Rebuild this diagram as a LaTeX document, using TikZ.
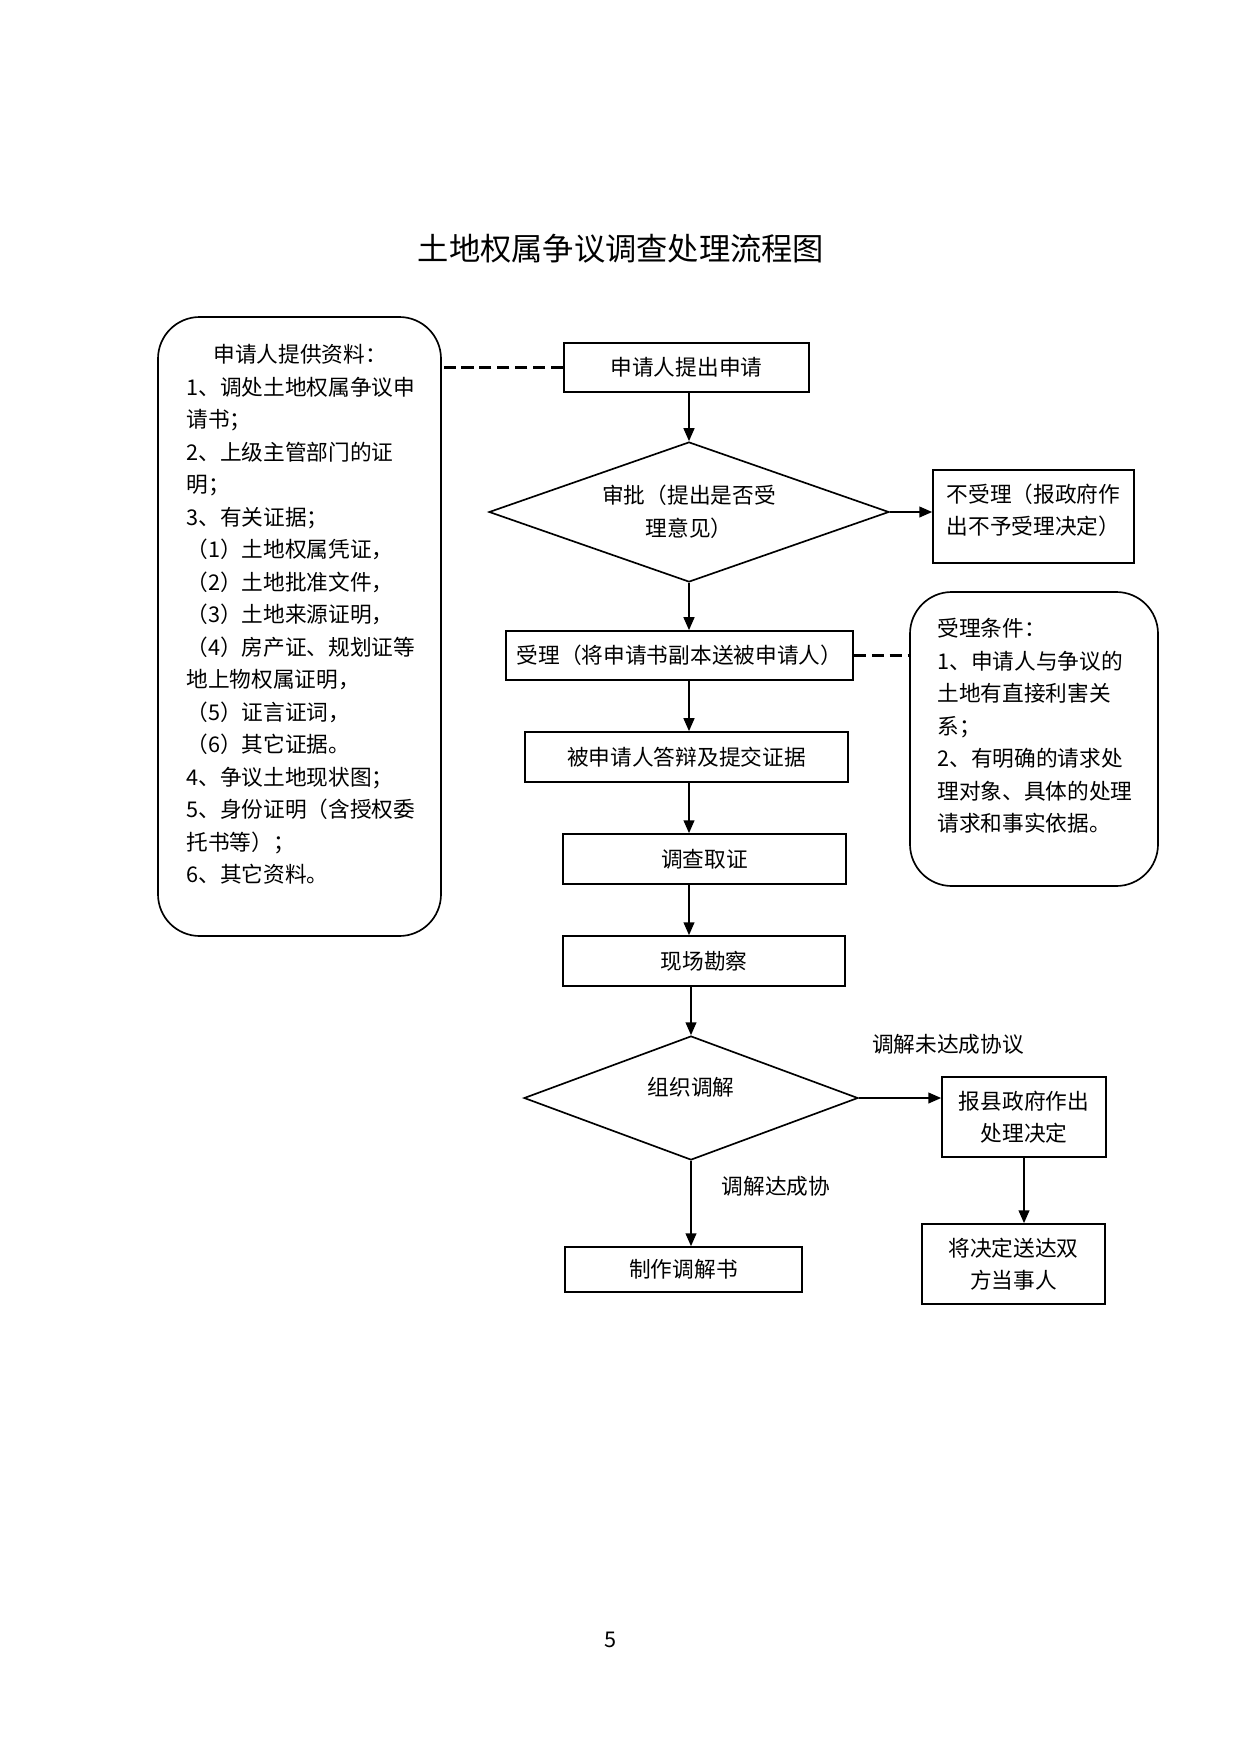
\documentclass[tikz,border=0pt]{standalone}
\usepackage{fontspec}
\setmainfont{Noto Sans CJK SC}
\usetikzlibrary{shapes.geometric,arrows.meta}
\newdimen\upx \upx=0.4797pt
\begin{document}
\begin{tikzpicture}[x=0.4797pt,y=-0.4797pt,
  every node/.style={font=\fontsize{10.4pt}{15.6pt}\selectfont, inner sep=0pt},
  box/.style={draw, line width=0.8pt, rectangle, align=center},
  dia/.style={draw, line width=0.8pt, diamond, align=center},
  rbox/.style={draw, line width=0.8pt, rectangle, rounded corners=20pt},
  arr/.style={line width=0.8pt, -{Triangle[length=6.2pt,width=5.2pt]}},
  dsh/.style={line width=1pt, dash pattern=on 5.8pt off 2.8pt}]
\fill[white] (0,0) rectangle (1241,1754);
\useasboundingbox (0,0) rectangle (1241,1754);

\node[font=\fontsize{15pt}{18pt}\selectfont] (title) at (621,249) {土地权属争议调查处理流程图};

\node[rbox, minimum width=283\upx, minimum height=619\upx] (L) at (299.5,626.5) {};
\node[anchor=north west, align=left] (Lt) at (186,344) {\hspace*{13pt}申请人提供资料：\\1、调处土地权属争议申\\请书；\\2、上级主管部门的证\\明；\\3、有关证据；\\（1）土地权属凭证，\\（2）土地批准文件，\\（3）土地来源证明，\\（4）房产证、规划证等\\地上物权属证明，\\（5）证言证词，\\（6）其它证据。\\4、争议土地现状图；\\5、身份证明（含授权委\\托书等）；\\6、其它资料。};

\node[rbox, minimum width=248\upx, minimum height=294\upx] (R) at (1034,739) {};
\node[anchor=north west, align=left] (Rt) at (937,618) {受理条件：\\1、申请人与争议的\\土地有直接利害关\\系；\\2、有明确的请求处\\理对象、具体的处理\\请求和事实依据。};

\node[box, minimum width=245\upx, minimum height=49\upx] (A) at (686.5,367.5) {申请人提出申请};
\node[dia, shape aspect=2.86, minimum width=400\upx, minimum height=140\upx] (d1) at (689,512) {审批（提出是否受\\理意见）};
\node[box, minimum width=201\upx, minimum height=93\upx] (nb) at (1033.5,516.5) {不受理（报政府作\\出不予受理决定）\rule[-7pt]{0pt}{7pt}};
\node[box, minimum width=347\upx, minimum height=49\upx] (B) at (679.5,655.5) {受理（将申请书副本送被申请人）};
\node[box, minimum width=323\upx, minimum height=50\upx] (C) at (686.5,757) {被申请人答辩及提交证据};
\node[box, minimum width=283\upx, minimum height=50\upx] (D) at (704.5,859) {调查取证};
\node[box, minimum width=282\upx, minimum height=50\upx] (E) at (704,961) {现场勘察};
\node[dia, shape aspect=2.7, minimum width=334\upx, minimum height=124\upx, text height=9pt, text depth=11pt] (d2) at (691,1098) {组织调解};
\node[box, minimum width=164\upx, minimum height=80\upx] (F) at (1024,1117) {报县政府作出\\处理决定};
\node[box, minimum width=183\upx, minimum height=80\upx] (G) at (1013.5,1264) {将决定送达双\\方当事人};
\node[box, minimum width=237\upx, minimum height=45\upx] (H) at (683.5,1269.5) {制作调解书};
\node (l1) at (948,1044) {调解未达成协议};
\node (l2) at (776,1186) {调解达成协};
\node (pg) at (611,1640) {5};

\draw[arr] (A.south -| d1.north) -- (d1.north);
\draw[arr] (d1.south) -- (d1.south |- B.north);
\draw[arr] (B.south -| d1.north) -- (C.north -| d1.north);
\draw[arr] (C.south -| d1.north) -- (D.north -| d1.north);
\draw[arr] (D.south -| d1.north) -- (E.north -| d1.north);
\draw[arr] (E.south -| d2.north) -- (d2.north);
\draw[arr] (d2.south) -- (d2.south |- H.north);
\draw[arr] (d1.east) -- (d1.east -| nb.west);
\draw[arr] (d2.east) -- (d2.east -| F.west);
\draw[arr] (F.south) -- (F.south |- G.north);
\draw[dsh] (A.west) -- (A.west -| L.east);
\draw[dsh] (B.east) -- (B.east -| R.west);
\end{tikzpicture}
\end{document}
